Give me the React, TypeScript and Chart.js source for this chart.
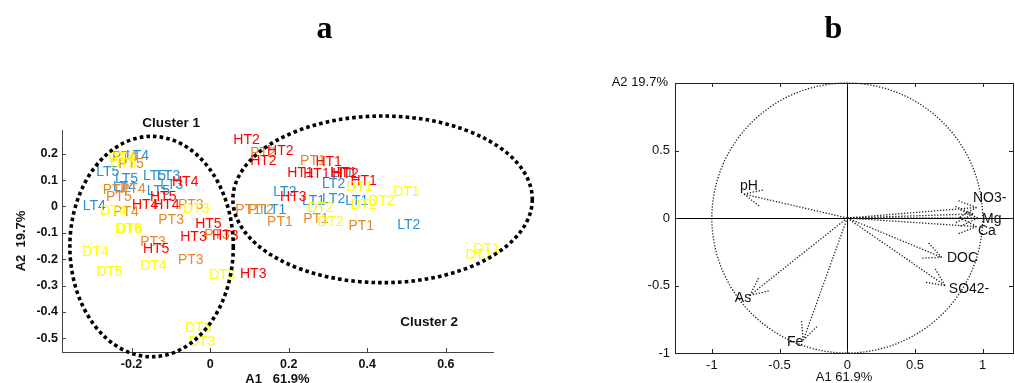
import React, { useEffect, useRef } from 'react';
import { Chart, registerables } from 'chart.js';

Chart.register(...registerables);

const SANS = "'Liberation Sans', Arial, sans-serif";
const SERIF = "'Liberation Serif', 'Times New Roman', serif";

// ---------- Panel a : sample scores ----------
const htNames = ['HT2', 'HT2', 'HT2', 'HT1', 'HT1', 'HT1', 'HT1', 'HT2', 'HT1', 'HT3', 'HT4', 'HT4', 'HT4', 'HT5', 'HT3', 'HT3', 'HT5', 'HT3', 'HT5'];
const htA1 = [0.059, 0.145, 0.102, 0.268, 0.196, 0.237, 0.306, 0.311, 0.357, 0.178, -0.097, -0.199, -0.145, -0.038, -0.076, 0.005, -0.171, 0.076, -0.153];
const htA2 = [0.251, 0.209, 0.171, 0.167, 0.125, 0.122, 0.125, 0.122, 0.095, 0.034, 0.091, 0.004, 0.004, -0.068, -0.118, -0.114, -0.160, -0.255, 0.034];

const ptNames = ['PT4', 'PT5', 'PT5', 'PT4', 'PT4', 'PT4', 'PT3', 'PT3', 'PT3', 'PT3', 'PT3', 'PT2', 'PT1', 'PT1', 'PT2', 'PT1', 'PT1', 'PT1'];
const ptA1 = [-0.250, -0.234, -0.265, -0.247, -0.273, -0.229, -0.082, -0.132, -0.015, -0.178, -0.082, 0.102, 0.229, 0.064, 0.097, 0.145, 0.237, 0.352];
const ptA2 = [0.186, 0.160, 0.034, -0.023, 0.061, 0.065, 0.004, -0.053, -0.110, -0.137, -0.205, 0.201, 0.171, -0.015, -0.015, -0.061, -0.049, -0.076];

const ltNames = ['LT4', 'LT5', 'LT5', 'LT5', 'LT3', 'LT4', 'LT5', 'LT4', 'LT1', 'LT2', 'LT2', 'LT1', 'LT2', 'LT1', 'LT1', 'LT2', 'LT3'];
const ltA1 = [-0.214, -0.290, -0.242, -0.171, -0.135, -0.247, -0.161, -0.324, 0.306, 0.285, 0.161, 0.234, 0.285, 0.344, 0.135, 0.476, -0.127];
const ltA2 = [0.190, 0.129, 0.103, 0.114, 0.114, 0.072, 0.057, 0.000, 0.125, 0.084, 0.053, 0.019, 0.027, 0.019, -0.015, -0.072, 0.080];

const dtNames = ['DT5', 'DT4', 'DT4', 'DT3', 'DT6', 'DT6', 'DT4', 'DT5', 'DT4', 'DT3', 'DT3', 'DT3', 'DT1', 'DT1', 'DT1', 'DT1', 'DT2', 'DT2', 'DT2', 'DT2'];
const dtA1 = [-0.255, -0.260, -0.280, -0.069, -0.242, -0.239, -0.326, -0.290, -0.178, -0.003, -0.064, -0.054, 0.650, 0.670, 0.346, 0.466, 0.357, 0.403, 0.247, 0.273];
const dtA2 = [0.160, 0.183, -0.019, -0.011, -0.087, -0.087, -0.175, -0.251, -0.228, -0.262, -0.460, -0.513, -0.183, -0.163, 0.072, 0.053, 0.004, 0.019, -0.008, -0.061];

const clusterNames = ['Cluster 1', 'Cluster 2'];
const clusterTextA1 = [-0.173, 0.484];
const clusterTextA2 = [0.316, -0.441];
const ellipseCenterA1 = [-0.149, 0.439];
const ellipseCenterA2 = [-0.152, 0.027];
const ellipseRadiusA1 = [0.208, 0.381];
const ellipseRadiusA2 = [0.418, 0.316];

const xTicksA = [-0.2, 0, 0.2, 0.4, 0.6];
const yTicksA = [-0.5, -0.4, -0.3, -0.2, -0.1, 0, 0.1, 0.2];

// ---------- Panel b : variable loadings ----------
const varNames = ['pH', 'NO3-', '', 'Mg', 'Ca', 'DOC', 'SO42-', 'As', 'Fe'];
const varA1 = [-0.763, 0.955, 0.93, 0.965, 0.955, 0.697, 0.722, -0.719, -0.325];
const varA2 = [0.177, 0.078, 0.03, 0.0, -0.064, -0.291, -0.5, -0.573, -0.906];
const varLabelA1 = [-0.792, 0.928, 0, 0.995, 0.965, 0.736, 0.75, -0.83, -0.445];
const varLabelA2 = [0.238, 0.15, 0, -0.005, -0.101, -0.3, -0.529, -0.596, -0.92];
const corrCircleRadius = 1;

const xTicksB = [-1, -0.5, 0, 0.5, 1];
const yTicksB = [-1, -0.5, 0, 0.5];

const pts = (xs: number[], ys: number[]) => xs.map((v, i) => ({ x: v, y: ys[i] }));

const textPlugin = {
  id: 'textLabels',
  afterDatasetsDraw(chart: any) {
    const ctx = chart.ctx;
    chart.data.datasets.forEach((ds: any, i: number) => {
      if (!ds.texts) return;
      const meta = chart.getDatasetMeta(i);
      ctx.save();
      ctx.font = ds.textFont;
      ctx.fillStyle = ds.textColor;
      ctx.textAlign = 'left';
      ctx.textBaseline = 'middle';
      meta.data.forEach((el: any, j: number) => {
        const t = ds.texts[j];
        if (t) ctx.fillText(t, el.x, el.y);
      });
      ctx.restore();
    });
  },
};

const ellipsePlugin = {
  id: 'clusterEllipses',
  afterDraw(chart: any) {
    const { ctx, scales } = chart;
    const x = scales.x, y = scales.y;
    ctx.save();
    ctx.strokeStyle = '#000';
    ctx.lineWidth = 3.6;
    ctx.setLineDash([3.6, 3.1]);
    ellipseCenterA1.forEach((cx, i) => {
      const cy = ellipseCenterA2[i];
      const px = x.getPixelForValue(cx);
      const py = y.getPixelForValue(cy);
      const rx = Math.abs(x.getPixelForValue(cx + ellipseRadiusA1[i]) - px);
      const ry = Math.abs(y.getPixelForValue(cy + ellipseRadiusA2[i]) - py);
      ctx.beginPath();
      ctx.ellipse(px, py, rx, ry, 0, 0, Math.PI * 2);
      ctx.stroke();
    });
    ctx.restore();
  },
};

const makeTickPlugin = (sides: string[], color: string, box: boolean) => ({
  id: 'inwardTicks',
  afterDraw(chart: any) {
    const { ctx, chartArea: a, scales } = chart;
    const L = 4;
    ctx.save();
    ctx.strokeStyle = color;
    ctx.lineWidth = 1;
    ctx.beginPath();
    scales.x.ticks.forEach((t: any) => {
      const px = Math.round(scales.x.getPixelForValue(t.value)) + 0.5;
      if (sides.includes('bottom')) { ctx.moveTo(px, a.bottom); ctx.lineTo(px, a.bottom - L); }
      if (sides.includes('top')) { ctx.moveTo(px, a.top); ctx.lineTo(px, a.top + L); }
    });
    scales.y.ticks.forEach((t: any) => {
      const py = Math.round(scales.y.getPixelForValue(t.value)) + 0.5;
      if (sides.includes('left')) { ctx.moveTo(a.left, py); ctx.lineTo(a.left + L, py); }
      if (sides.includes('right')) { ctx.moveTo(a.right, py); ctx.lineTo(a.right - L, py); }
    });
    ctx.stroke();
    if (box) {
      ctx.strokeRect(Math.round(a.left) + 0.5, Math.round(a.top) + 0.5, Math.round(a.right - a.left), Math.round(a.bottom - a.top));
    }
    ctx.restore();
  },
});

const makeTitlePlugin = (letter: string, cx: number) => ({
  id: 'panelLetter',
  afterDraw(chart: any) {
    const ctx = chart.ctx;
    ctx.save();
    ctx.font = `bold 32px ${SERIF}`;
    ctx.fillStyle = '#000';
    ctx.textAlign = 'center';
    ctx.textBaseline = 'alphabetic';
    ctx.fillText(letter, cx, 38);
    ctx.restore();
  },
});

const arrowPlugin = {
  id: 'biplotArrows',
  afterDatasetsDraw(chart: any) {
    const { ctx, scales } = chart;
    const x = scales.x, y = scales.y;
    const ox = x.getPixelForValue(0), oy = y.getPixelForValue(0);
    ctx.save();
    ctx.strokeStyle = '#222';
    ctx.lineWidth = 1.3;
    ctx.setLineDash([1.3, 1.7]);
    const rx = x.getPixelForValue(corrCircleRadius) - ox;
    const ry = oy - y.getPixelForValue(corrCircleRadius);
    ctx.beginPath();
    ctx.ellipse(ox, oy, rx, ry, 0, 0, Math.PI * 2);
    ctx.stroke();
    const meta = chart.getDatasetMeta(0);
    const head = 21;
    const ang = (25 * Math.PI) / 180;
    meta.data.forEach((el: any) => {
      const dx = el.x - ox, dy = el.y - oy;
      const len = Math.hypot(dx, dy) || 1;
      const bx = -dx / len, by = -dy / len;
      ctx.beginPath();
      ctx.moveTo(ox, oy);
      ctx.lineTo(el.x, el.y);
      [1, -1].forEach((s) => {
        const a = s * ang;
        const hx = bx * Math.cos(a) - by * Math.sin(a);
        const hy = bx * Math.sin(a) + by * Math.cos(a);
        ctx.moveTo(el.x, el.y);
        ctx.lineTo(el.x + hx * head, el.y + hy * head);
      });
      ctx.stroke();
    });
    ctx.restore();
  },
};

const yTitleBPlugin = {
  id: 'yTitleB',
  afterDraw(chart: any) {
    const ctx = chart.ctx;
    ctx.save();
    ctx.font = `13px ${SANS}`;
    ctx.fillStyle = '#111';
    ctx.textAlign = 'right';
    ctx.textBaseline = 'middle';
    ctx.fillText('A2 19.7%', 158, 82);
    ctx.restore();
  },
};

const labelDs = (names: string[], xs: number[], ys: number[], color: string, font: string) => ({
  data: pts(xs, ys),
  pointRadius: 0,
  pointHoverRadius: 0,
  showLine: false,
  texts: names,
  textColor: color,
  textFont: font,
});

const configA = (): any => {
  const f = `14px ${SANS}`;
  return {
    type: 'scatter',
    data: {
      datasets: [
        labelDs(ltNames, ltA1, ltA2, '#2b8fd1', f),
        labelDs(ptNames, ptA1, ptA2, '#e4892b', f),
        labelDs(htNames, htA1, htA2, '#ff0000', f),
        labelDs(dtNames, dtA1, dtA2, '#ffff00', f),
        labelDs(clusterNames, clusterTextA1, clusterTextA2, '#111', `bold 13.5px ${SANS}`),
      ],
    },
    options: {
      animation: false,
      responsive: false,
      events: [],
      layout: { padding: { top: 130, right: 67, left: 0, bottom: 0 } },
      plugins: { legend: { display: false }, tooltip: { enabled: false } },
      scales: {
        x: {
          type: 'linear',
          min: -0.377,
          max: 0.72,
          afterBuildTicks: (s: any) => { s.ticks = xTicksA.map((v) => ({ value: v })); },
          afterFit: (s: any) => { s.height = 31; },
          grid: { display: false, drawTicks: false },
          border: { display: true, color: '#444', width: 1 },
          ticks: { font: { family: SANS, size: 12.5, weight: 'bold' }, color: '#111', padding: 5, maxRotation: 0, autoSkip: false, callback: (v: any) => String(v) },
          title: { display: true, text: 'A1   61.9%', font: { family: SANS, size: 13, weight: 'bold' }, color: '#111', padding: { top: 0, bottom: -3.8 } },
        },
        y: {
          type: 'linear',
          min: -0.552,
          max: 0.29,
          afterBuildTicks: (s: any) => { s.ticks = yTicksA.map((v) => ({ value: v })); },
          afterFit: (s: any) => { s.width = 62; },
          grid: { display: false, drawTicks: false },
          border: { display: true, color: '#444', width: 1 },
          ticks: { font: { family: SANS, size: 12.5, weight: 'bold' }, color: '#111', padding: 4, autoSkip: false, callback: (v: any) => String(v) },
          title: { display: true, text: 'A2  19.7%', font: { family: SANS, size: 13, weight: 'bold' }, color: '#111', padding: { top: 14, bottom: 0 } },
        },
      },
    },
    plugins: [textPlugin, ellipsePlugin, makeTickPlugin(['bottom', 'left'], '#444', false), makeTitlePlugin('a', 324.5)],
  };
};

const configB = (): any => ({
  type: 'scatter',
  data: {
    datasets: [
      { data: pts(varA1, varA2), pointRadius: 0, pointHoverRadius: 0, showLine: false },
      labelDs(varNames, varLabelA1, varLabelA2, '#111', `14px ${SANS}`),
    ],
  },
  options: {
    animation: false,
    responsive: false,
    events: [],
    layout: { padding: { top: 83, right: 2, left: 0, bottom: 0 } },
    plugins: { legend: { display: false }, tooltip: { enabled: false } },
    scales: {
      x: {
        type: 'linear',
        min: -1.272,
        max: 1.224,
        afterBuildTicks: (s: any) => { s.ticks = xTicksB.map((v) => ({ value: v })); },
        afterFit: (s: any) => { s.height = 30; },
        grid: { display: true, drawTicks: false, lineWidth: 1, color: (c: any) => (c.tick && c.tick.value === 0 ? '#000' : 'rgba(0,0,0,0)') },
        border: { display: true, color: '#222', width: 1 },
        ticks: { font: { family: SANS, size: 13 }, color: '#111', padding: 5, maxRotation: 0, autoSkip: false, callback: (v: any) => String(v) },
        title: { display: true, text: 'A1 61.9%', font: { family: SANS, size: 13 }, color: '#111', padding: { top: 0, bottom: -1.8 } },
      },
      y: {
        type: 'linear',
        min: -1,
        max: 1,
        afterBuildTicks: (s: any) => { s.ticks = yTicksB.map((v) => ({ value: v })); },
        afterFit: (s: any) => { s.width = 165; },
        grid: { display: true, drawTicks: false, lineWidth: 1, color: (c: any) => (c.tick && c.tick.value === 0 ? '#000' : 'rgba(0,0,0,0)') },
        border: { display: true, color: '#222', width: 1 },
        ticks: { font: { family: SANS, size: 13 }, color: '#111', padding: 5, autoSkip: false, callback: (v: any) => String(v) },
        title: { display: false },
      },
    },
  },
  plugins: [arrowPlugin, textPlugin, makeTickPlugin(['bottom', 'left', 'top', 'right'], '#222', true), makeTitlePlugin('b', 323.5), yTitleBPlugin],
});

function ChartCanvas({ make, width, height, left }: { make: () => any; width: number; height: number; left: number }) {
  const ref = useRef<HTMLCanvasElement | null>(null);
  useEffect(() => {
    if (!ref.current) return;
    const chart = new Chart(ref.current, make());
    return () => chart.destroy();
  }, []);
  return (
    <canvas
      ref={ref}
      width={width}
      height={height}
      style={{ position: 'absolute', left, top: 0, width, height, display: 'block' }}
    />
  );
}

export default function App() {
  return (
    <div style={{ position: 'fixed', left: 0, top: 0, width: 1015, height: 383, overflow: 'hidden', background: '#fff' }}>
      <ChartCanvas make={configA} width={560} height={383} left={0} />
      <ChartCanvas make={configB} width={505} height={383} left={510} />
    </div>
  );
}
